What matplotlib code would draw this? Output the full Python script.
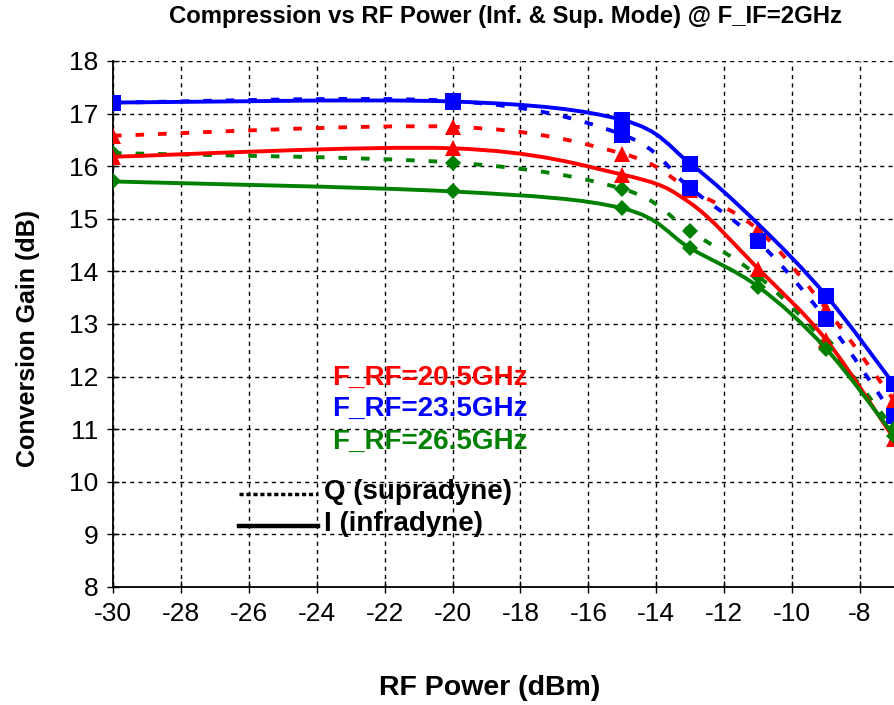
import numpy as np
import matplotlib
matplotlib.use('Agg')
import matplotlib.pyplot as plt
from matplotlib.path import Path
from matplotlib.patches import PathPatch

plt.rcParams['axes.unicode_minus'] = False

# ---- data ----
rf_power = [-30, -20, -15, -13, -11, -9, -7]
gain_q_205 = [16.58, 16.75, 16.24, 15.55, 14.79, 13.29, 11.55]
gain_q_235 = [17.21, 17.24, 16.60, 15.58, 14.57, 13.09, 11.25]
gain_q_265 = [16.25, 16.07, 15.57, 14.76, 13.91, 12.63, 11.00]
gain_i_205 = [16.18, 16.34, 15.84, 15.30, 14.05, 12.70, 10.82]
gain_i_235 = [17.21, 17.23, 16.88, 16.05, 14.90, 13.54, 11.85]
gain_i_265 = [15.71, 15.52, 15.20, 14.44, 13.71, 12.53, 10.88]
x_ticks = [-30, -28, -26, -24, -22, -20, -18, -16, -14, -12, -10, -8]
y_ticks = [8, 9, 10, 11, 12, 13, 14, 15, 16, 17, 18]
freq_labels = ['F_RF=20.5GHz', 'F_RF=23.5GHz', 'F_RF=26.5GHz']

RED, BLUE, GREEN = '#FF0000', '#0000FF', '#008000'
FONT = ['Liberation Sans', 'DejaVu Sans']


def smooth_path(xs, ys):
    pts = np.column_stack([xs, ys]).astype(float)
    n = len(pts)
    verts = [pts[0]]
    codes = [Path.MOVETO]
    for i in range(n - 1):
        p0 = pts[i - 1] if i > 0 else pts[i]
        p1 = pts[i]
        p2 = pts[i + 1]
        p3 = pts[i + 2] if i + 2 < n else pts[i + 1]
        c1 = p1 + (p2 - p0) / 6.0
        c2 = p2 - (p3 - p1) / 6.0
        verts += [c1, c2, p2]
        codes += [Path.CURVE4] * 3
    return Path(verts, codes)


fig = plt.figure(figsize=(8.94, 7.05), dpi=100)
ax = fig.add_axes([113 / 894, 118 / 705, 1 - 113 / 894, (587 - 61) / 705])
ax.set_xlim(-30, -7)
ax.set_ylim(8, 18)

series = [
    (gain_q_205, RED, '^', 12, 'dotted', None),
    (gain_q_235, BLUE, 's', 11, 'dotted', None),
    (gain_q_265, GREEN, 'D', 8.3, 'dotted', None),
    (gain_i_205, RED, '^', 12, 'solid', [True, True, True, False, True, True, True]),
    (gain_i_235, BLUE, 's', 11, 'solid', [True, True, True, True, False, True, True]),
    (gain_i_265, GREEN, 'D', 8.3, 'solid', None),
]

z = 3
for ys, col, mk, ms, style, mev in series:
    ls = (0, (2.2, 3.6)) if style == 'dotted' else '-'
    patch = PathPatch(smooth_path(rf_power, ys), fill=False, edgecolor=col,
                      linewidth=2.8, linestyle=ls, capstyle='butt', zorder=z)
    ax.add_patch(patch)
    ax.plot(rf_power, ys, linestyle='none', marker=mk, markersize=ms,
            color=col, markeredgewidth=0, markevery=mev if mev else None,
            zorder=z + 0.5)
    z += 1

# grid
ax.set_xticks(x_ticks)
ax.set_yticks(y_ticks)
ax.grid(True, color='black', linestyle=(0, (3, 3)), linewidth=1.0)
ax.set_axisbelow(True)
for s in ['top', 'right']:
    ax.spines[s].set_visible(False)
for s in ['left', 'bottom']:
    ax.spines[s].set_linewidth(1.3)
ax.tick_params(direction='inout', length=9, width=1, colors='black', labelsize=19, pad=6)
for lab in ax.get_xticklabels() + ax.get_yticklabels():
    lab.set_family(FONT)

# legend-like texts
ty = [11.98, 11.38, 10.76]
for lab, col, yy in zip(freq_labels, [RED, BLUE, GREEN], ty):
    ax.text(-23.55, yy, lab, color=col, fontsize=20, fontweight='bold',
            family=FONT, va='center', ha='left')
ax.plot([-26.3, -23.95], [9.77, 9.77], color='black', linestyle=(0, (1.2, 0.8)), linewidth=2.5)
ax.plot([-26.3, -23.95], [9.16, 9.16], color='black', linestyle='-', linewidth=3.2)
ax.text(-23.8, 9.80, 'Q (supradyne)', fontsize=20, fontweight='bold', family=FONT,
        va='center', ha='left')
ax.text(-23.8, 9.19, 'I (infradyne)', fontsize=20, fontweight='bold', family=FONT,
        va='center', ha='left')

fig.text(0.565, 0.977, 'Compression vs RF Power (Inf. & Sup. Mode) @ F_IF=2GHz',
         ha='center', va='center', fontsize=17.2, fontweight='bold', family=FONT)
fig.text(0.031, 0.52, 'Conversion Gain (dB)', rotation=90, ha='center', va='center',
         fontsize=18, fontweight='bold', family=FONT)
fig.text(0.548, 0.024, 'RF Power (dBm)', ha='center', va='center',
         fontsize=20.5, fontweight='bold', family=FONT)

fig.savefig('out.png', dpi=100)
